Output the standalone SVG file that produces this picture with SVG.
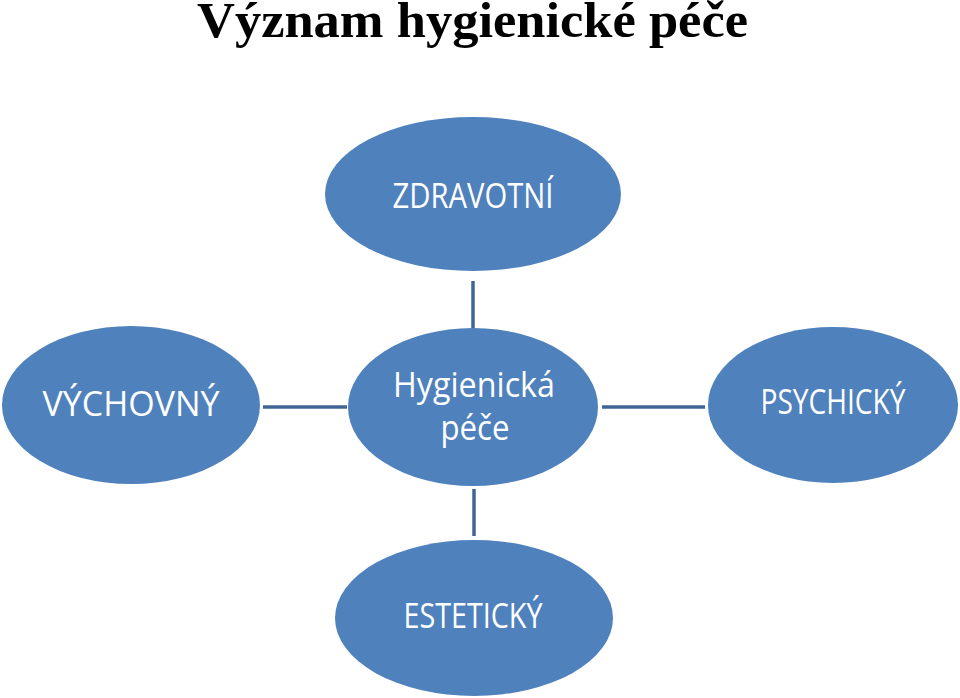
<svg xmlns="http://www.w3.org/2000/svg" width="960" height="698" viewBox="0 0 960 698">
<style>
.node{fill:#4f81bd;}
.lbl{font-family:"Open Sans","Noto Sans","Liberation Sans",sans-serif;font-size:35px;fill:#ffffff;text-anchor:middle;}
.conn line{stroke:#3f6496;stroke-width:3.5;}
.title{font-family:"Liberation Serif","Times New Roman",serif;font-weight:bold;font-size:50px;fill:#000;}
</style>
<rect width="960" height="698" fill="#ffffff"/>
<text class="title" x="197" y="37" textLength="551" lengthAdjust="spacingAndGlyphs">Význam hygienické péče</text>
<g id="connectors" class="conn">
<line x1="473" y1="281" x2="473" y2="329"/>
<line x1="263" y1="407" x2="347" y2="407"/>
<line x1="602" y1="407" x2="705" y2="407"/>
<line x1="474" y1="489" x2="474" y2="536"/>
</g>
<g id="zdravotni">
<ellipse class="node" cx="473" cy="194" rx="148" ry="77"/>
<text class="lbl" x="473" y="208" textLength="161" lengthAdjust="spacingAndGlyphs">ZDRAVOTNÍ</text>
</g>
<g id="hygienicka-pece">
<ellipse class="node" cx="473" cy="407" rx="125" ry="79"/>
<text class="lbl" x="474" y="397" textLength="162" lengthAdjust="spacingAndGlyphs">Hygienická</text>
<text class="lbl" x="475" y="440" textLength="69" lengthAdjust="spacingAndGlyphs">péče</text>
</g>
<g id="vychovny">
<ellipse class="node" cx="131" cy="405" rx="129" ry="79"/>
<text class="lbl" x="131" y="416" textLength="177" lengthAdjust="spacingAndGlyphs">VÝCHOVNÝ</text>
</g>
<g id="psychicky">
<ellipse class="node" cx="833" cy="405" rx="125" ry="78"/>
<text class="lbl" x="833" y="414" textLength="145" lengthAdjust="spacingAndGlyphs">PSYCHICKÝ</text>
</g>
<g id="esteticky">
<ellipse class="node" cx="474" cy="618" rx="139" ry="78"/>
<text class="lbl" x="473" y="628" textLength="139" lengthAdjust="spacingAndGlyphs">ESTETICKÝ</text>
</g>
</svg>
